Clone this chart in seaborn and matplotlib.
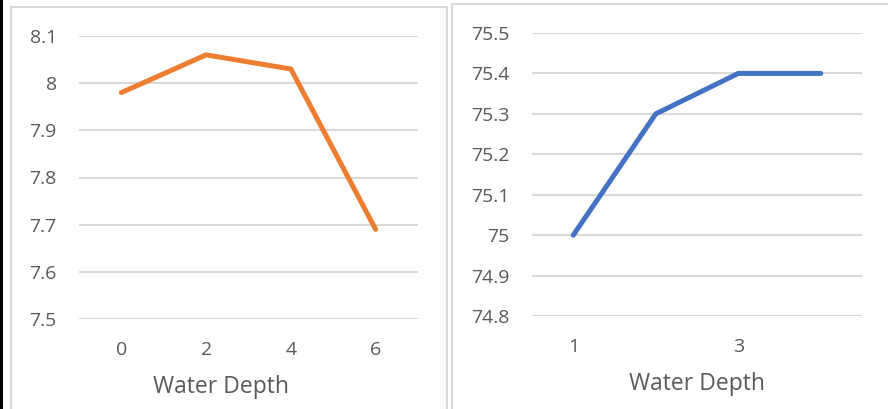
import matplotlib
matplotlib.use("Agg")
import matplotlib.pyplot as plt
import seaborn as sns
import pandas as pd
from matplotlib.patches import Rectangle

# data
depth_left = [0, 2, 4, 6]
value_left = [7.98, 8.06, 8.03, 7.69]
depth_right = [1, 2, 3, 4]
value_right = [75.0, 75.3, 75.4, 75.4]
right_ticks = [1, 3]

sns.set_style("white")
plt.rcParams["font.family"] = ["Open Sans", "DejaVu Sans"]
txt = "#595959"
grid = "#D9D9D9"

W, H = 888, 409
fig = plt.figure(figsize=(W / 100, H / 100), dpi=100)

# chart frames and black strip at the far left
fig.patches.append(Rectangle((0, 0), 3 / W, 1, transform=fig.transFigure,
                             facecolor="black", edgecolor="none"))
fig.patches.append(Rectangle((11 / W, -0.05), (447 - 11) / W, (409 - 7) / H + 0.05,
                             transform=fig.transFigure, facecolor="none",
                             edgecolor=grid, lw=1.5))
fig.patches.append(Rectangle((452 / W, -0.05), 0.5, (409 - 4) / H + 0.05,
                             transform=fig.transFigure, facecolor="none",
                             edgecolor=grid, lw=1.5))


def px_axes(x0, x1, ytop, ybot):
    return fig.add_axes([x0 / W, (H - ybot) / H, (x1 - x0) / W, (ybot - ytop) / H])


ax1 = px_axes(79, 418, 36, 319)
ax2 = px_axes(532, 862, 33, 316)

df1 = pd.DataFrame({"depth": depth_left, "value": value_left})
df2 = pd.DataFrame({"depth": depth_right, "value": value_right})

sns.lineplot(data=df1, x="depth", y="value", ax=ax1, color="#ED7D31", lw=3.6,
             solid_capstyle="round", solid_joinstyle="round")
sns.lineplot(data=df2, x="depth", y="value", ax=ax2, color="#4472C4", lw=3.6,
             solid_capstyle="round", solid_joinstyle="round")

ax1.set_xlim(-1, 7)
ax1.set_ylim(7.5, 8.1)
ax1.set_xticks(depth_left)
ax1.set_yticks([7.5, 7.6, 7.7, 7.8, 7.9, 8.0, 8.1])
ax1.set_yticklabels(["7.5", "7.6", "7.7", "7.8", "7.9", "8", "8.1"])

ax2.set_xlim(0.5, 4.5)
ax2.set_ylim(74.8, 75.5)
ax2.set_xticks(right_ticks)
ax2.set_yticks([74.8, 74.9, 75.0, 75.1, 75.2, 75.3, 75.4, 75.5])
ax2.set_yticklabels(["74.8", "74.9", "75", "75.1", "75.2", "75.3", "75.4", "75.5"])

for ax, lx in ((ax1, 0.42), (ax2, 0.5)):
    ax.set_facecolor("none")
    ax.grid(axis="y", color=grid, lw=1.5)
    ax.set_axisbelow(True)
    for s in ax.spines.values():
        s.set_visible(False)
    ax.tick_params(axis="both", length=0, labelsize=14, labelcolor=txt)
    ax.tick_params(axis="y", pad=16)
    ax.tick_params(axis="x", pad=16)
    ax.set_ylabel("")
    ax.set_xlabel("Water Depth", fontsize=16.5, color=txt)
    ax.xaxis.set_label_coords(lx, -0.24)
    ax.xaxis.label.set_va("center")

fig.savefig("out.png", dpi=100)
